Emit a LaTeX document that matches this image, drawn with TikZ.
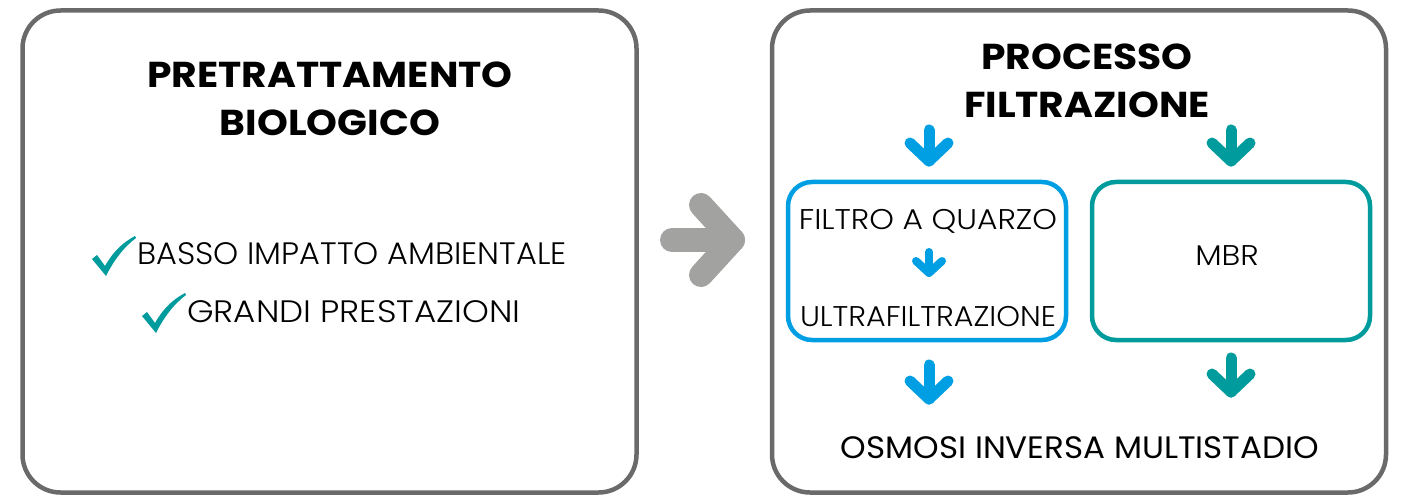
\documentclass[tikz,border=0pt]{standalone}
\usepackage{fontspec}
\setmainfont{Poppins}
\newfontfamily\pbold{Poppins Bold}[FakeStretch=1.09]
\newfontfamily\plightA{Poppins Light}[FakeStretch=1.03]
\newfontfamily\plightB{Poppins Light}[FakeStretch=1.10]
\newfontfamily\plightC{Poppins Light}[FakeStretch=1.06]
\newfontfamily\preg{Poppins}[FakeStretch=1.05]
\definecolor{frame}{HTML}{6A6A6A}
\definecolor{arrowgray}{HTML}{A2A2A0}
\definecolor{cblue}{HTML}{009FE3}
\definecolor{cteal}{HTML}{009B9C}
\begin{document}
\begin{tikzpicture}[x=1pt,y=-1pt,
  panel/.style={draw=frame,line width=4.5pt,rounded corners=38pt,inner sep=0pt,fill=white},
  subbox/.style={draw=#1,line width=4.5pt,rounded corners=24pt,inner sep=0pt,minimum width=278pt,minimum height=158pt},
  title/.style={font=\pbold\fontsize{36}{48}\selectfont,align=center,inner sep=0pt},
  body/.style={font=\plightA\fontsize{31}{36}\selectfont,inner sep=0pt},
  small/.style={font=\plightB\fontsize{28.5}{32}\selectfont,inner sep=0pt},
  darr/.style={draw=#1,line width=11pt,line cap=round,line join=round},
  bigarr/.style={draw=arrowgray,line width=24pt,line cap=round,line join=round},
  tick/.style={fill=cteal,draw=none}]
\useasboundingbox (0,0) rectangle (1404,497);
% panels
\node[panel,minimum width=614pt,minimum height=482pt] (L) at (329.5,251.5) {};
\node[panel,minimum width=614pt,minimum height=482pt] (R) at (1079,251.5) {};
% left content
\node[title] (t1) at (330,99) {PRETRATTAMENTO\\BIOLOGICO};
\node[body,anchor=base west] (b1) at (137,264) {BASSO IMPATTO AMBIENTALE};
\node[body,font=\plightB\fontsize{31}{36}\selectfont,anchor=base west] (b2) at (187,322) {GRANDI PRESTAZIONI};
% check marks
\foreach \n/\dx/\dy in {k1/0/0,k2/50/57}{
  \path[tick,shift={(\dx,\dy)}] (92,259) -- (97,255) -- (105,266) .. controls (113,252) and (122,243) .. (135,236)
     -- (136,238) .. controls (124,247) and (114,260) .. (106,276) -- cycle;
}
% big gray arrow between panels
\coordinate (g0) at (672,240);
\coordinate (g1) at (733,240);
\draw[bigarr] (g0) -- (g1);
\draw[bigarr] (701,205) -- (g1) -- (701,275);
% right title
\node[title] (t2) at (1087,81) {PROCESSO\\FILTRAZIONE};
% sub boxes
\node[subbox=cblue] (Q) at (927,261) {};
\node[subbox=cteal] (M) at (1231,261) {};
\node[small,anchor=base] (fq) at (928,229) {FILTRO A QUARZO};
\node[small,font=\plightC\fontsize{28.5}{32}\selectfont,anchor=base] (uf) at (928,326) {ULTRAFILTRAZIONE};
\node[small,anchor=base] (mbr) at (1227,265) {MBR};
% small arrow inside blue box
\coordinate (s0) at (929,252);
\coordinate (s1) at (929,273);
\draw[darr=cblue,line width=8pt] (s0) -- (s1);
\draw[darr=cblue,line width=8pt] (916,261) -- (s1) -- (942,261);
% top arrows
\coordinate (a0) at (929,130);
\coordinate (a1) at (929,161);
\draw[darr=cblue] (a0) -- (a1);
\draw[darr=cblue] (910,143) -- (a1) -- (948,143);
\coordinate (c0) at (1231,130);
\coordinate (c1) at (1231,161);
\draw[darr=cteal] (c0) -- (c1);
\draw[darr=cteal] (1212,143) -- (c1) -- (1250,143);
% bottom arrows
\coordinate (a2) at (929,365);
\coordinate (a3) at (929,399);
\draw[darr=cblue] (a2) -- (a3);
\draw[darr=cblue] (910,381) -- (a3) -- (948,381);
\coordinate (c2) at (1231,358);
\coordinate (c3) at (1231,392);
\draw[darr=cteal] (c2) -- (c3);
\draw[darr=cteal] (1212,374) -- (c3) -- (1250,374);
% bottom label
\node[font=\preg\fontsize{31}{36}\selectfont,inner sep=0pt,anchor=base] (os) at (1080,458) {OSMOSI INVERSA MULTISTADIO};
\end{tikzpicture}
\end{document}
